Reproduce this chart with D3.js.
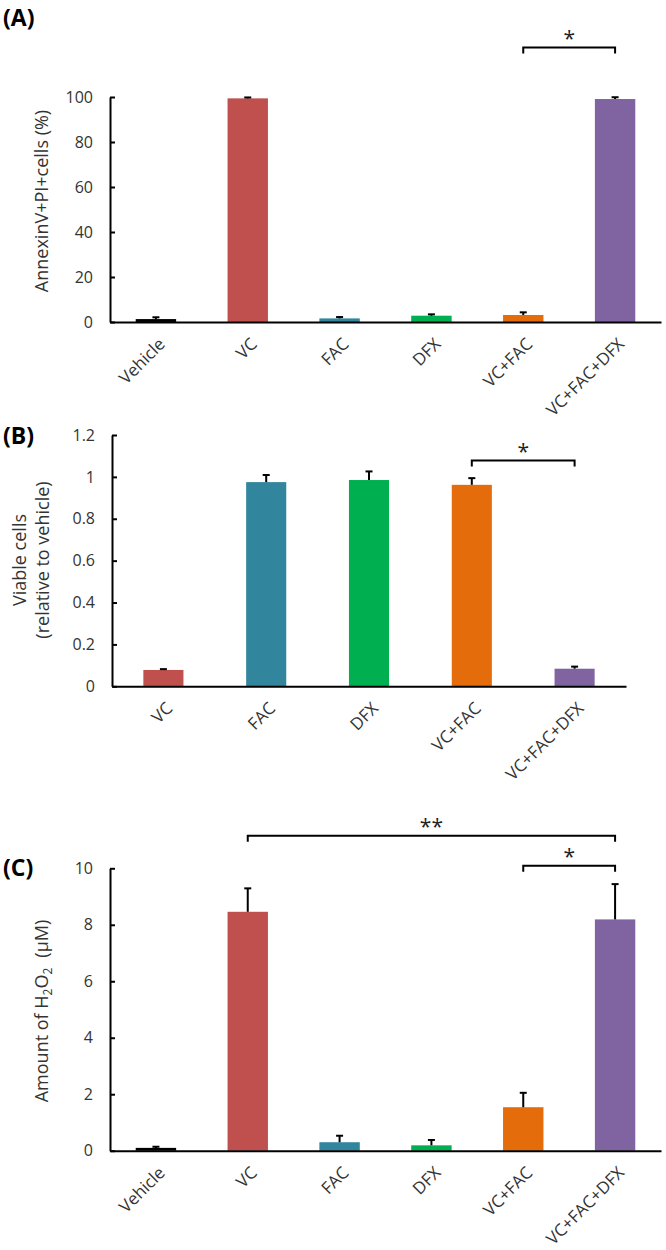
<!DOCTYPE html>
<html>
<head>
<meta charset="utf-8">
<script src="https://cdn.jsdelivr.net/npm/d3@7"></script>
<style>
  body { margin: 0; background: #fff; }
  text { font-family: 'Open Sans', 'Noto Sans', sans-serif; fill: #333; }
</style>
</head>
<body>
<div id="chart"></div>
<script>
/* global d3 */

// groups on the x axis
const groupsSix = ['Vehicle', 'VC', 'FAC', 'DFX', 'VC+FAC', 'VC+FAC+DFX'];
const groupsFive = ['VC', 'FAC', 'DFX', 'VC+FAC', 'VC+FAC+DFX'];

// (A) AnnexinV+PI+ cells, %
const annexinMean = [1.3, 99.4, 1.6, 2.8, 3.1, 99.1];
const annexinErr = [0.8, 0.4, 0.6, 0.6, 1.2, 0.8];
const annexinTicks = [0, 20, 40, 60, 80, 100];

// (B) viable cells relative to vehicle
const viableMean = [0.078, 0.975, 0.985, 0.962, 0.084];
const viableErr = [0.004, 0.034, 0.041, 0.032, 0.010];
const viableTicks = [0, 0.2, 0.4, 0.6, 0.8, 1, 1.2];

// (C) H2O2, uM
const h2o2Mean = [0.10, 8.46, 0.30, 0.19, 1.54, 8.19];
const h2o2Err = [0.04, 0.83, 0.23, 0.19, 0.51, 1.25];
const h2o2Ticks = [0, 2, 4, 6, 8, 10];

// significance brackets: [from, to, level, label]
const annexinSig = [['VC+FAC', 'VC+FAC+DFX', 122, '*']];
const viableSig = [['VC+FAC', 'VC+FAC+DFX', 1.078, '*']];
const h2o2Sig = [['VC', 'VC+FAC+DFX', 11.15, '**'], ['VC+FAC', 'VC+FAC+DFX', 10.09, '*']];

const colors = {
  Vehicle: '#000000',
  VC: '#c0504d',
  FAC: '#31859c',
  DFX: '#00b050',
  'VC+FAC': '#e46c0a',
  'VC+FAC+DFX': '#8064a2',
};

const svg = d3.select('#chart').append('svg')
  .attr('width', 666)
  .attr('height', 1250);

const fmt = d3.format('~g');

// draws one bar panel with error bars and brackets
const drawPanel = (opts) => {
  const g = svg.append('g');
  const data = opts.groups.map((name, i) => ({ name, mean: opts.mean[i], err: opts.err[i] }));

  const x = d3.scaleBand()
    .domain(opts.groups)
    .range(opts.xRange)
    .paddingInner(opts.pad)
    .paddingOuter(opts.pad / 2);
  const y = d3.scaleLinear().domain(opts.yDomain).range(opts.yRange);

  // bars
  g.selectAll('.bar')
    .data(data)
    .enter()
    .append('rect')
    .attr('x', d => x(d.name))
    .attr('width', x.bandwidth())
    .attr('y', d => y(d.mean))
    .attr('height', d => y(0) - y(d.mean))
    .attr('fill', d => colors[d.name]);

  // error bars (upper only)
  const eb = g.selectAll('.err')
    .data(data)
    .enter()
    .append('g')
    .attr('stroke', '#000')
    .attr('stroke-width', 2);
  eb.append('line')
    .attr('x1', d => x(d.name) + x.bandwidth() / 2)
    .attr('x2', d => x(d.name) + x.bandwidth() / 2)
    .attr('y1', d => y(d.mean))
    .attr('y2', d => y(d.mean + d.err));
  eb.append('line')
    .attr('x1', d => x(d.name) + x.bandwidth() / 2 - 3.5)
    .attr('x2', d => x(d.name) + x.bandwidth() / 2 + 3.5)
    .attr('y1', d => y(d.mean + d.err))
    .attr('y2', d => y(d.mean + d.err));

  // y axis
  const ya = g.append('g')
    .attr('transform', `translate(${opts.xRange[0]},0)`)
    .call(d3.axisLeft(y).tickValues(opts.ticks).tickFormat(fmt)
      .tickSizeInner(-5).tickSizeOuter(0).tickPadding(17));
  ya.select('.domain').attr('stroke-width', 2);
  ya.selectAll('.tick line').attr('stroke-width', 2);
  ya.selectAll('.tick text').attr('font-size', 16).attr('fill', '#333')
    .attr('font-family', "'Open Sans', sans-serif");

  // x axis
  const xa = g.append('g')
    .attr('transform', `translate(0,${y(0)})`)
    .call(d3.axisBottom(x).tickSize(0).tickSizeOuter(0).tickFormat(''));
  xa.select('.domain').attr('stroke-width', 2);

  g.selectAll('.xlab')
    .data(opts.groups)
    .enter()
    .append('text')
    .attr('transform', d => `translate(${x(d) + x.bandwidth() / 2 + 6},${y(0) + 19}) rotate(-45)`)
    .attr('text-anchor', 'end')
    .attr('dy', '0.35em')
    .attr('font-size', 17)
    .text(d => d);

  // brackets
  opts.sig.forEach((s) => {
    const x1 = x(s[0]) + x.bandwidth() / 2;
    const x2 = x(s[1]) + x.bandwidth() / 2;
    const by = y(s[2]);
    g.append('path')
      .attr('d', `M${x1},${by + 6}V${by}H${x2}V${by + 6}`)
      .attr('fill', 'none')
      .attr('stroke', '#000')
      .attr('stroke-width', 2);
    g.append('text')
      .attr('x', (x1 + x2) / 2)
      .attr('y', by - 2)
      .attr('text-anchor', 'middle')
      .attr('font-family', "'DejaVu Sans', sans-serif")
      .attr('font-size', 21)
      .style('fill', '#222')
      .text(s[3]);
  });

  // panel letter
  g.append('text')
    .attr('x', 3)
    .attr('y', opts.letterY)
    .attr('font-size', 23)
    .attr('font-weight', 'bold')
    .style('fill', '#000')
    .text(opts.letter);

  return g;
};

const gA = drawPanel({
  groups: groupsSix, mean: annexinMean, err: annexinErr, ticks: annexinTicks,
  sig: annexinSig, xRange: [110, 661], yRange: [322, 97], yDomain: [0, 100],
  pad: 0.56, letter: '(A)', letterY: 26,
});
gA.append('text')
  .attr('transform', 'translate(42,201) rotate(-90)')
  .attr('text-anchor', 'middle')
  .attr('dy', '0.35em')
  .attr('font-size', 18)
  .text('AnnexinV+PI+cells (%)');

const gB = drawPanel({
  groups: groupsFive, mean: viableMean, err: viableErr, ticks: viableTicks,
  sig: viableSig, xRange: [112, 626], yRange: [686.3, 435], yDomain: [0, 1.2],
  pad: 0.61, letter: '(B)', letterY: 444,
});
gB.append('text')
  .attr('transform', 'translate(20,560) rotate(-90)')
  .attr('text-anchor', 'middle')
  .attr('dy', '0.35em')
  .attr('font-size', 18)
  .text('Viable cells');
gB.append('text')
  .attr('transform', 'translate(43,560) rotate(-90)')
  .attr('text-anchor', 'middle')
  .attr('dy', '0.35em')
  .attr('font-size', 18)
  .text('(relative to vehicle)');

const gC = drawPanel({
  groups: groupsSix, mean: h2o2Mean, err: h2o2Err, ticks: h2o2Ticks,
  sig: h2o2Sig, xRange: [110, 661], yRange: [1150.7, 868.3], yDomain: [0, 10],
  pad: 0.56, letter: '(C)', letterY: 876,
});
const tC = gC.append('text')
  .attr('transform', 'translate(42,1011) rotate(-90)')
  .attr('text-anchor', 'middle')
  .attr('dy', '0.35em')
  .attr('font-size', 18);
tC.append('tspan').text('Amount of H');
tC.append('tspan').attr('dy', 4).attr('font-size', 12).text('2');
tC.append('tspan').attr('dy', -4).text('O');
tC.append('tspan').attr('dy', 4).attr('font-size', 12).text('2');
tC.append('tspan').attr('dy', -4).attr('dx', 10).text('(μM)');
</script>
</body>
</html>
